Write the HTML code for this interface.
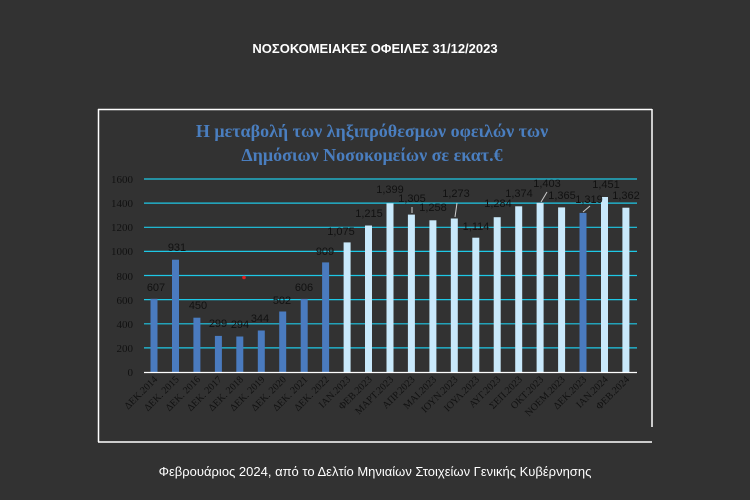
<!DOCTYPE html>
<html><head><meta charset="utf-8"><style>
html,body{margin:0;padding:0;background:#323232;}
</style></head><body>
<svg width="750" height="500" xmlns="http://www.w3.org/2000/svg" style="display:block">
<rect width="750" height="500" fill="#323232"/>
<text x="375" y="53" text-anchor="middle" font-family="Liberation Sans, sans-serif" font-weight="bold" font-size="13" fill="#fff">ΝΟΣΟΚΟΜΕΙΑΚΕΣ ΟΦΕΙΛΕΣ 31/12/2023</text>
<g stroke="#fff" stroke-width="1.5" fill="none">
<line x1="98" y1="109.5" x2="652" y2="109.5"/>
<line x1="98.5" y1="109" x2="98.5" y2="442"/>
<line x1="98" y1="442" x2="652" y2="442"/>
<line x1="652" y1="109" x2="652" y2="427"/>
</g>
<text x="372" y="137" text-anchor="middle" font-family="Liberation Serif, serif" font-weight="bold" font-size="18" fill="#4a7ebf">Η μεταβολή των ληξιπρόθεσμων οφειλών των</text>
<text x="372" y="161" text-anchor="middle" font-family="Liberation Serif, serif" font-weight="bold" font-size="18" fill="#4a7ebf">Δημόσιων Νοσοκομείων σε εκατ.€</text>
<g stroke="#1ec8e6" stroke-width="1.2">
<line x1="144" y1="179" x2="637" y2="179"/>
<line x1="144" y1="203.1" x2="637" y2="203.1"/>
<line x1="144" y1="227.3" x2="637" y2="227.3"/>
<line x1="144" y1="251.4" x2="637" y2="251.4"/>
<line x1="144" y1="275.5" x2="637" y2="275.5"/>
<line x1="144" y1="299.6" x2="637" y2="299.6"/>
<line x1="144" y1="323.8" x2="637" y2="323.8"/>
<line x1="144" y1="347.9" x2="637" y2="347.9"/>
</g>
<g font-family="Liberation Serif, serif" font-size="11" fill="#111" text-anchor="end">
<text x="133" y="376">0</text><text x="133" y="352">200</text><text x="133" y="328">400</text><text x="133" y="304">600</text><text x="133" y="280">800</text><text x="133" y="255">1000</text><text x="133" y="231">1200</text><text x="133" y="207">1400</text><text x="133" y="183">1600</text>
</g>
<g>
<rect x="150.5" y="298.8" width="7" height="73.2" fill="#4a7bbf"/>
<rect x="172" y="259.7" width="7" height="112.3" fill="#4a7bbf"/>
<rect x="193.4" y="317.7" width="7" height="54.3" fill="#4a7bbf"/>
<rect x="214.9" y="335.9" width="7" height="36.1" fill="#4a7bbf"/>
<rect x="236.3" y="336.5" width="7" height="35.5" fill="#4a7bbf"/>
<rect x="257.8" y="330.5" width="7" height="41.5" fill="#4a7bbf"/>
<rect x="279.2" y="311.5" width="7" height="60.5" fill="#4a7bbf"/>
<rect x="300.7" y="298.9" width="7" height="73.1" fill="#4a7bbf"/>
<rect x="322.1" y="262.4" width="7" height="109.6" fill="#4a7bbf"/>
<rect x="343.6" y="242.4" width="7" height="129.6" fill="#c9e9fb"/>
<rect x="365" y="225.5" width="7" height="146.5" fill="#c9e9fb"/>
<rect x="386.5" y="203.3" width="7" height="168.7" fill="#c9e9fb"/>
<rect x="407.9" y="214.6" width="7" height="157.4" fill="#c9e9fb"/>
<rect x="429.4" y="220.3" width="7" height="151.7" fill="#c9e9fb"/>
<rect x="450.8" y="218.5" width="7" height="153.5" fill="#c9e9fb"/>
<rect x="472.3" y="237.7" width="7" height="134.3" fill="#c9e9fb"/>
<rect x="493.7" y="217.2" width="7" height="154.8" fill="#c9e9fb"/>
<rect x="515.2" y="206.3" width="7" height="165.7" fill="#c9e9fb"/>
<rect x="536.6" y="202.8" width="7" height="169.2" fill="#c9e9fb"/>
<rect x="558.1" y="207.4" width="7" height="164.6" fill="#c9e9fb"/>
<rect x="579.5" y="212.9" width="7" height="159.1" fill="#4a7bbf"/>
<rect x="601" y="197" width="7" height="175" fill="#c9e9fb"/>
<rect x="622.4" y="207.7" width="7" height="164.3" fill="#c9e9fb"/>
</g>
<line x1="144" y1="372.5" x2="637" y2="372.5" stroke="#fff" stroke-width="1.2"/>
<circle cx="244" cy="277.5" r="1.8" fill="#e02020"/>
<g stroke="#ccc" stroke-width="1">
<line x1="412" y1="207" x2="412" y2="213"/>
<line x1="457" y1="203" x2="455" y2="217"/>
<line x1="547" y1="192" x2="541" y2="202"/>
<line x1="590" y1="206" x2="583" y2="212"/>
</g>
<g font-family="Liberation Sans, sans-serif" font-size="11" fill="#111" text-anchor="middle">
<text x="156" y="291">607</text><text x="177" y="251">931</text><text x="198" y="309">450</text><text x="218" y="327">299</text><text x="240" y="328">294</text><text x="260" y="322">344</text><text x="282" y="304">502</text><text x="304" y="291">606</text><text x="325" y="255">909</text><text x="341" y="235">1,075</text><text x="369" y="217">1,215</text><text x="390" y="193">1,399</text><text x="412" y="202">1,305</text><text x="433" y="211">1,258</text><text x="456" y="197">1,273</text><text x="476" y="230">1,114</text><text x="498" y="207">1,284</text><text x="519" y="197">1,374</text><text x="547" y="187">1,403</text><text x="562" y="199">1,365</text><text x="589" y="203">1,319</text><text x="606" y="188">1,451</text><text x="626" y="199">1,362</text>
</g>
<g font-family="Liberation Serif, serif" font-size="10" fill="#111" text-anchor="end">
<text transform="translate(158,380) rotate(-45)">ΔΕΚ.2014</text>
<text transform="translate(179.5,380) rotate(-45)">ΔΕΚ. 2015</text>
<text transform="translate(200.9,380) rotate(-45)">ΔΕΚ. 2016</text>
<text transform="translate(222.4,380) rotate(-45)">ΔΕΚ. 2017</text>
<text transform="translate(243.8,380) rotate(-45)">ΔΕΚ. 2018</text>
<text transform="translate(265.3,380) rotate(-45)">ΔΕΚ. 2019</text>
<text transform="translate(286.7,380) rotate(-45)">ΔΕΚ. 2020</text>
<text transform="translate(308.2,380) rotate(-45)">ΔΕΚ. 2021</text>
<text transform="translate(329.6,380) rotate(-45)">ΔΕΚ. 2022</text>
<text transform="translate(351.1,380) rotate(-45)">ΙΑΝ.2023</text>
<text transform="translate(372.5,380) rotate(-45)">ΦΕΒ.2023</text>
<text transform="translate(394,380) rotate(-45)">ΜΑΡΤ.2023</text>
<text transform="translate(415.4,380) rotate(-45)">ΑΠΡ.2023</text>
<text transform="translate(436.9,380) rotate(-45)">ΜΑΙ.2023</text>
<text transform="translate(458.3,380) rotate(-45)">ΙΟΥΝ.2023</text>
<text transform="translate(479.8,380) rotate(-45)">ΙΟΥΛ.2023</text>
<text transform="translate(501.2,380) rotate(-45)">ΑΥΓ.2023</text>
<text transform="translate(522.7,380) rotate(-45)">ΣΕΠ.2023</text>
<text transform="translate(544.1,380) rotate(-45)">ΟΚΤ.2023</text>
<text transform="translate(565.6,380) rotate(-45)">ΝΟΕΜ.2023</text>
<text transform="translate(587,380) rotate(-45)">ΔΕΚ.2023</text>
<text transform="translate(608.5,380) rotate(-45)">ΙΑΝ.2024</text>
<text transform="translate(629.9,380) rotate(-45)">ΦΕΒ.2024</text>
</g>
<text x="375" y="476" text-anchor="middle" font-family="Liberation Sans, sans-serif" font-size="13" fill="#fff">Φεβρουάριος 2024, από το Δελτίο Μηνιαίων Στοιχείων Γενικής Κυβέρνησης</text>
</svg>
</body></html>
